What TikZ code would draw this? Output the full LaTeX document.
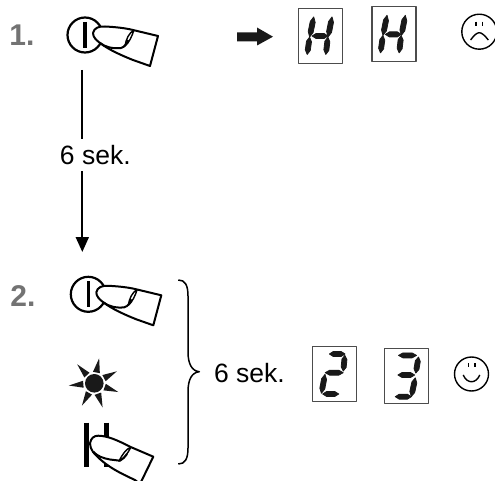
\documentclass[tikz,border=0pt]{standalone}
\usepackage{fontspec}
\setmainfont{Liberation Sans}
\usepackage{tikz}
\usetikzlibrary{arrows.meta,calc}

\newcommand{\segbox}[3]{
  \begin{scope}[shift={(#1,#2)}]
    \draw[boxline] (0,0) rectangle (44,55);
    \foreach \xa/\ya/\xb/\yb in {#3} {
      \coordinate (sa) at (\xa,\ya);
      \coordinate (sb) at (\xb,\yb);
      \filldraw[segment] ($(sa)!-.1!(sb)$) -- ($(sa)!.2!(sb)!2.5pt!90:(sb)$) -- ($(sa)!.8!(sb)!2.5pt!90:(sb)$)
        -- ($(sa)!1.1!(sb)$) -- ($(sa)!.8!(sb)!2.5pt!-90:(sb)$) -- ($(sa)!.2!(sb)!2.5pt!-90:(sb)$) -- cycle;
    }
  \end{scope}
}

\begin{document}
\begin{tikzpicture}[x=1pt,y=-1pt,>={Triangle[length=15pt,width=13pt]},line join=round]
  \tikzstyle{boxline}=[draw=black!70,line width=1.4pt]
  \tikzstyle{segment}=[line width=.8pt,fill=black!90,draw=black!90]
  \tikzstyle{handline}=[line width=2pt,fill=white]
  \tikzstyle{faceline}=[line width=1.4pt]
  \tikzstyle{step label}=[text=black!55,font=\bfseries\fontsize{30}{32}\selectfont]
  \tikzstyle{time label}=[font=\fontsize{26.5}{28}\selectfont,inner xsep=2pt,inner ysep=6pt]

  \useasboundingbox (0,0) rectangle (495,481);

  \node[step label] (one) at (22,35) {1.};
  \node[step label] (two) at (23,296) {2.};

  \foreach \bx/\by in {85/35,88.3/294.3} {
    \begin{scope}[shift={(\bx,\by)}]
      \draw[line width=2.2pt] (0,0) circle[radius=17.5pt];
      \draw[line width=3.4pt] (0,-13) -- (0,13);
      \draw[handline] (8,-2) .. controls (9,-7) and (14,-9) .. (20,-8.5)
        .. controls (30,-8) and (40,-7) .. (48,-5) -- (73,1) -- (65,31) -- (48,25)
        .. controls (38,21) and (24,15) .. (15,8) .. controls (11,5) and (8,2) .. (8,-2);
      \draw[line width=2pt] (15,8) .. controls (20,12) and (28,14) .. (36,13)
        .. controls (40,12) and (42,8) .. (43,5);
      \draw[line width=1.4pt] (49,-5) .. controls (44,-2) and (41,4) .. (40,11)
        .. controls (44,8) and (47,1) .. (49,-5);
    \end{scope}
  }

  \coordinate (arrowtop) at (82.3,70);
  \coordinate (arrowend) at (82.3,252);
  \draw[->,line width=2pt] (arrowtop) -- node[time label,fill=white,pos=.467,xshift=13pt] (waitone) {6 sek.} (arrowend);

  \fill[black!90] (237,32.5) -- (257,32.5) -- (257,27.5) -- (273,36.7) -- (257,45.5) -- (257,41.5) -- (237,41.5) -- cycle;

  \segbox{298.7}{8.3}{14.7/10.3/11.3/27,10.7/30.3/8.7/44.7,33/10.3/29.7/27,29/30.3/27.3/44.7,14.7/27.7/28/27.7}
  \segbox{372}{6.7}{14.7/10.3/11.3/27,10.7/30.3/8.7/44.7,33/10.3/29.7/27,29/30.3/27.3/44.7,14.7/27.7/28/27.7}
  \segbox{312.7}{346.7}{18/7.3/31/7.3,32/10/30.7/23,14/26/29/26,12/29.3/9/45,11.3/47.3/24.7/47.3}
  \segbox{384.3}{348.7}{15.7/6.7/30.7/6.7,34/9.7/31.7/23,15/26.3/29/26.3,30.7/30.7/27.3/46.3,12.3/48/25.7/48}

  \begin{scope}[shift={(479.3,31.7)}]
    \draw[faceline] (0,0) circle[radius=17.5pt];
    \draw[faceline] (-3.3,-10) -- (-3.3,-6) (3.3,-10) -- (3.3,-6);
    \draw[faceline] (-8.7,8.3) .. controls (-5,3) and (-2,1) .. (0,1) .. controls (2,1) and (5,3) .. (9,8.3);
  \end{scope}
  \begin{scope}[shift={(471.5,374)}]
    \draw[faceline] (0,0) circle[radius=17pt];
    \draw[faceline] (-3.3,-10.7) -- (-3.3,-6.7) (3.3,-10.7) -- (3.3,-6.7);
    \draw[faceline] (-8.3,1) .. controls (-6,6) and (-3,7.7) .. (0,7.7) .. controls (3,7.7) and (6,6) .. (8.3,1);
  \end{scope}

  \fill[black!90] (94.3,383.3) circle[radius=9.3pt];
  \foreach \ang in {79,28,-20,-71,-119,-175,132} {
    \begin{scope}[shift={(94.3,383.3)},rotate=\ang]
      \fill[black!90] (25.5,0) -- (11,-3.5) -- (11,3.5) -- cycle;
    \end{scope}
  }

  \draw[line width=5pt] (86,422.7) -- (86,467.3);
  \draw[line width=4.5pt] (106.7,422.7) -- (106.7,467.3);
  \draw[handline] (90,443.3) .. controls (91,438) and (94,435.7) .. (98.3,435.7)
    .. controls (108,436) and (116,440) .. (123.3,443.3) -- (130,446.7) -- (153.3,456.7) -- (140,484)
    -- (135,480) .. controls (120,473) and (105,466) .. (93,452) .. controls (91,449) and (90,446) .. (90,443.3);
  \draw[line width=2pt] (93.3,451.7) .. controls (97,456) and (103,458.3) .. (110,459.5) -- (120,460.7)
    .. controls (123,459) and (125,457) .. (127,454);
  \draw[line width=1.4pt] (131,447) .. controls (126,449) and (122,455) .. (119,461)
    .. controls (124,459) and (128,453) .. (131,447);

  \node[time label] (waittwo) at (249.5,373) {6 sek.};
  \draw[line width=1.5pt] (178.3,280) .. controls (185,280) and (188,285) .. (188,296) -- (188,352)
    .. controls (188,364) and (192,371) .. (199.3,371.7)
    .. controls (192,372.5) and (188,379) .. (188,392) -- (188,448)
    .. controls (188,459) and (185,464) .. (178.3,464);
\end{tikzpicture}
\end{document}
